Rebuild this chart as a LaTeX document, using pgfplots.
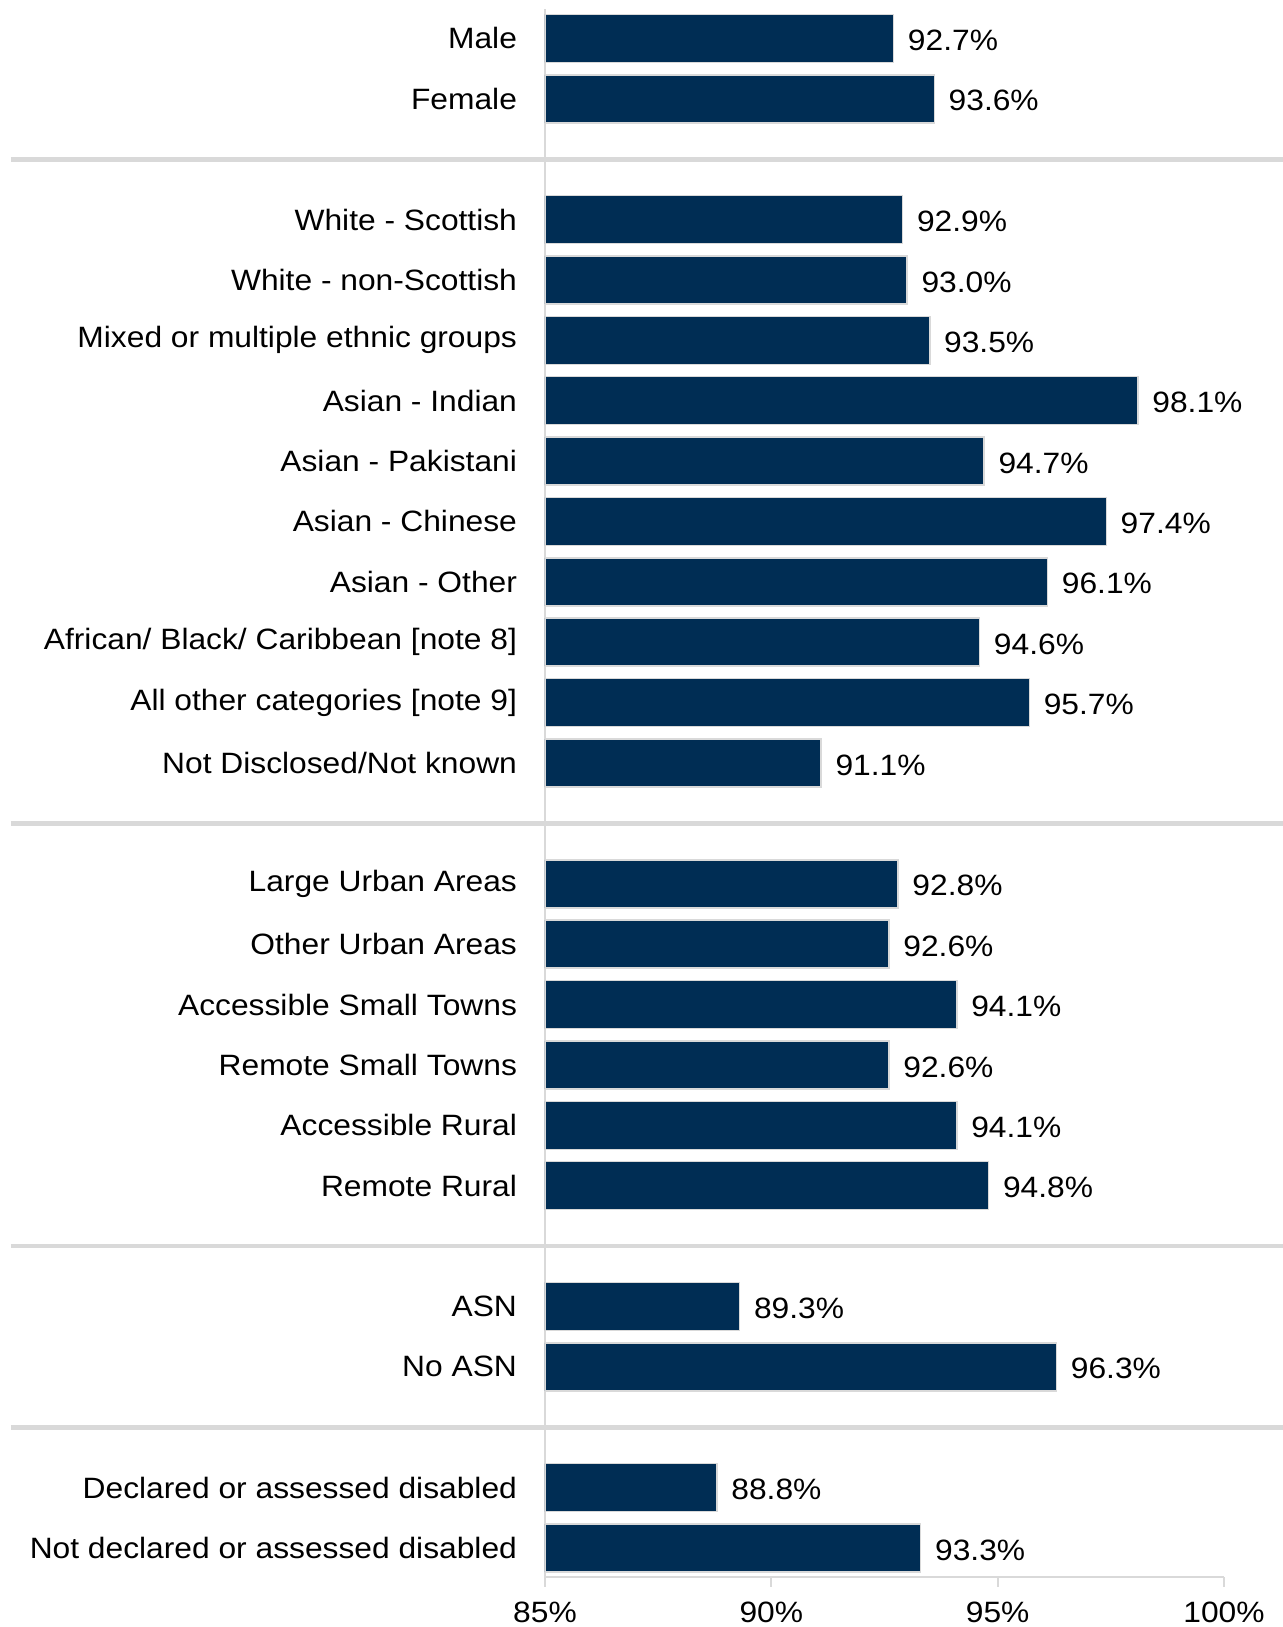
\documentclass[border=0pt]{standalone}
\usepackage{fontspec}
\setmainfont{Liberation Sans}[FakeStretch=1.08]
\usepackage{pgfplots}
\pgfplotsset{compat=1.18}
\definecolor{barblue}{HTML}{002D54}
\definecolor{sepgray}{HTML}{D9D9D9}
\newcommand{\lblfont}{\fontsize{14.7}{17}\selectfont}
\begin{document}
\begin{tikzpicture}[font=\lblfont]
\begin{axis}[
  name=ax,
  width=339.5pt, height=784pt, scale only axis,
  xmin=85, xmax=100, ymin=-0.48, ymax=25.487,
  xbar, bar width=24pt, bar shift=0pt,
  axis x line*=bottom, axis y line*=left,
  axis line style={draw=sepgray, line width=1pt},
  xtick={85,90,95,100},
  xticklabel={\pgfmathprintnumber{\tick}\%},
  /pgf/number format/assume math mode=true,
  tick align=outside, major tick length=5pt,
  xtick style={draw=sepgray, line width=1pt},
  ytick style={draw=none},
  tick label style={font=\lblfont, text=black},
  yticklabel style={xshift=-5.5pt},
  xticklabel style={yshift=-4pt},
  ytick={0,1,3,4,6,7,8,9,10,11,13,14,15,16,17,18,19,20,21,22,24,25},
  yticklabels={
    {Not declared or assessed disabled},
    {Declared or assessed disabled},
    {No ASN},
    {ASN},
    {Remote Rural},
    {Accessible Rural},
    {Remote Small Towns},
    {Accessible Small Towns},
    {Other Urban Areas},
    {Large Urban Areas},
    {Not Disclosed/Not known},
    {All other categories [note 9]},
    {African/ Black/ Caribbean [note 8]},
    {Asian - Other},
    {Asian - Chinese},
    {Asian - Pakistani},
    {Asian - Indian},
    {Mixed or multiple ethnic groups},
    {White - non-Scottish},
    {White - Scottish},
    {Female},
    {Male}},
  point meta=x,
  nodes near coords={\pgfmathprintnumber[fixed,fixed zerofill,precision=1]{\pgfplotspointmeta}\%},
  nodes near coords align={horizontal},
  every node near coord/.append style={font=\lblfont, text=black, xshift=3.5pt, yshift=-1pt},
]
\addplot[fill=barblue, draw=sepgray, line width=0.75pt] coordinates {
  (93.3,0) (88.8,1)
  (96.3,3) (89.3,4)
  (94.8,6) (94.1,7) (92.6,8) (94.1,9) (92.6,10) (92.8,11)
  (91.1,13) (95.7,14) (94.6,15) (96.1,16) (97.4,17) (94.7,18) (98.1,19) (93.5,20) (93.0,21) (92.9,22)
  (93.6,24) (92.7,25)
};
\coordinate (s1) at (axis cs:85,23);
\coordinate (s2) at (axis cs:85,12);
\coordinate (s3) at (axis cs:85,5);
\coordinate (s4) at (axis cs:85,2);
\end{axis}
\foreach \s in {s1,s2,s3,s4}{
  \draw[sepgray, line width=2.35pt] ([xshift=-267pt]\s) -- ([xshift=372pt]\s);
}
\pgfresetboundingbox
\path[use as bounding box] ([xshift=-272.5pt,yshift=4.5pt]ax.north west) rectangle ++(641.5pt,-813.5pt);
\end{tikzpicture}
\end{document}
